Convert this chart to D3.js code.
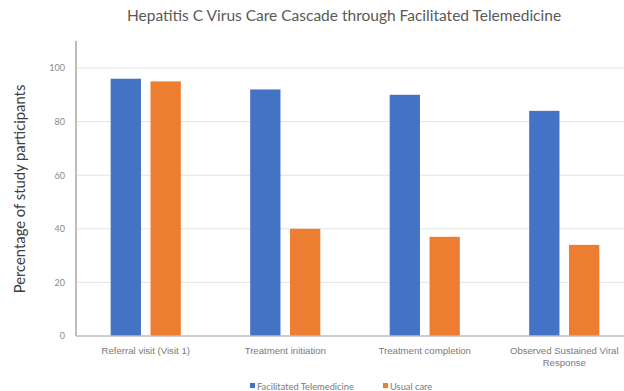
<!DOCTYPE html>
<html>
<head>
<meta charset="utf-8">
<script src="https://cdn.jsdelivr.net/npm/d3@7"></script>
<style>
  html, body { margin: 0; padding: 0; background: #fff; }
  svg { display: block; font-family: Lato, "Open Sans", sans-serif; }
</style>
</head>
<body>
<svg id="chart" width="624" height="391"></svg>
<script>
// Care cascade stages and the share of participants reaching each one
const categories = [
  "Referral visit (Visit 1)",
  "Treatment initiation",
  "Treatment completion",
  "Observed Sustained Viral Response"
];
const seriesNames = ["Facilitated Telemedicine", "Usual care"];
const telemedicine = [96, 92, 90, 84];
const usualCare = [95, 40, 37, 34];
const yTicks = [0, 20, 40, 60, 80, 100];
const colors = ["#4472C4", "#ED7D31"];

const svg = d3.select("#chart");
const W = 624, H = 391;
const plotLeft = 76, plotRight = 634, plotTop = 68, plotBottom = 336;

const x0 = d3.scaleBand().domain(categories).range([plotLeft, plotRight]).paddingInner(0).paddingOuter(0);
const x1 = d3.scaleBand().domain(seriesNames).range([0, x0.bandwidth()])
  .paddingInner(0.24).paddingOuter(0.87);
const y = d3.scaleLinear().domain([0, 100]).range([plotBottom, plotTop]);

// Title
svg.append("text")
  .attr("x", 344).attr("y", 21)
  .attr("text-anchor", "middle")
  .attr("font-size", 15.5)
  .attr("fill", "#595959")
  .text("Hepatitis C Virus Care Cascade through Facilitated Telemedicine");

// Horizontal gridlines
svg.append("g")
  .selectAll("line")
  .data(yTicks.filter(d => d > 0))
  .join("line")
  .attr("x1", plotLeft).attr("x2", W)
  .attr("y1", d => y(d)).attr("y2", d => y(d))
  .attr("stroke", "#e3e3e3").attr("stroke-width", 1);

// Y axis (labels only; the axis line is drawn separately)
const yAxis = d3.axisLeft(y).tickValues(yTicks).tickSize(0).tickPadding(11);
const gy = svg.append("g").attr("transform", `translate(${plotLeft},0)`).call(yAxis);
gy.select(".domain").remove();
gy.selectAll("text").attr("font-size", 9).attr("fill", "#8a8a8a").attr("font-family", "Lato, sans-serif");

// Bars
const rows = categories.map((c, i) => ({ cat: c, vals: [telemedicine[i], usualCare[i]] }));
const groups = svg.append("g").selectAll("g")
  .data(rows).join("g")
  .attr("transform", d => `translate(${x0(d.cat)},0)`);
groups.selectAll("rect")
  .data(d => d.vals.map((v, j) => ({ name: seriesNames[j], v, j })))
  .join("rect")
  .attr("x", d => x1(d.name))
  .attr("width", x1.bandwidth())
  .attr("y", d => y(d.v))
  .attr("height", d => y(0) - y(d.v))
  .attr("fill", d => colors[d.j]);

// Axis lines
svg.append("line")
  .attr("x1", plotLeft).attr("x2", plotLeft).attr("y1", 41).attr("y2", plotBottom)
  .attr("stroke", "#bdbdbd").attr("stroke-width", 2);
svg.append("line")
  .attr("x1", plotLeft).attr("x2", W).attr("y1", plotBottom).attr("y2", plotBottom)
  .attr("stroke", "#bdbdbd").attr("stroke-width", 1.5);

// Category labels (wrapped where needed)
const xAxis = d3.axisBottom(x0).tickSize(0).tickPadding(0);
const gx = svg.append("g").attr("transform", `translate(0,${plotBottom})`).call(xAxis);
gx.select(".domain").remove();
gx.selectAll("text").remove();
const wrapped = {
  "Observed Sustained Viral Response": ["Observed Sustained Viral", "Response"]
};
gx.selectAll(".tick").each(function (d) {
  const lines = wrapped[d] || [d];
  const t = d3.select(this).append("text")
    .attr("text-anchor", "middle")
    .attr("font-size", 9.6)
    .attr("fill", "#7a7a7a");
  lines.forEach((ln, k) => {
    t.append("tspan").attr("x", 0).attr("y", 17.5 + k * 12).text(ln);
  });
});

// Y axis title
svg.append("text")
  .attr("transform", `translate(24.5,189) rotate(-90)`)
  .attr("text-anchor", "middle")
  .attr("font-size", 14.8)
  .attr("fill", "#404040")
  .text("Percentage of study participants");

// Legend
const legend = svg.append("g").attr("transform", "translate(250,389.5)");
const legendItems = [
  { name: seriesNames[0], color: colors[0], x: 0 },
  { name: seriesNames[1], color: colors[1], x: 133 }
];
legendItems.forEach(it => {
  legend.append("rect").attr("x", it.x).attr("y", -6.5).attr("width", 5).attr("height", 5).attr("fill", it.color);
  legend.append("text").attr("x", it.x + 7).attr("y", 0)
    .attr("font-size", 9.3).attr("fill", "#7a7a7a").text(it.name);
});
</script>
</body>
</html>
